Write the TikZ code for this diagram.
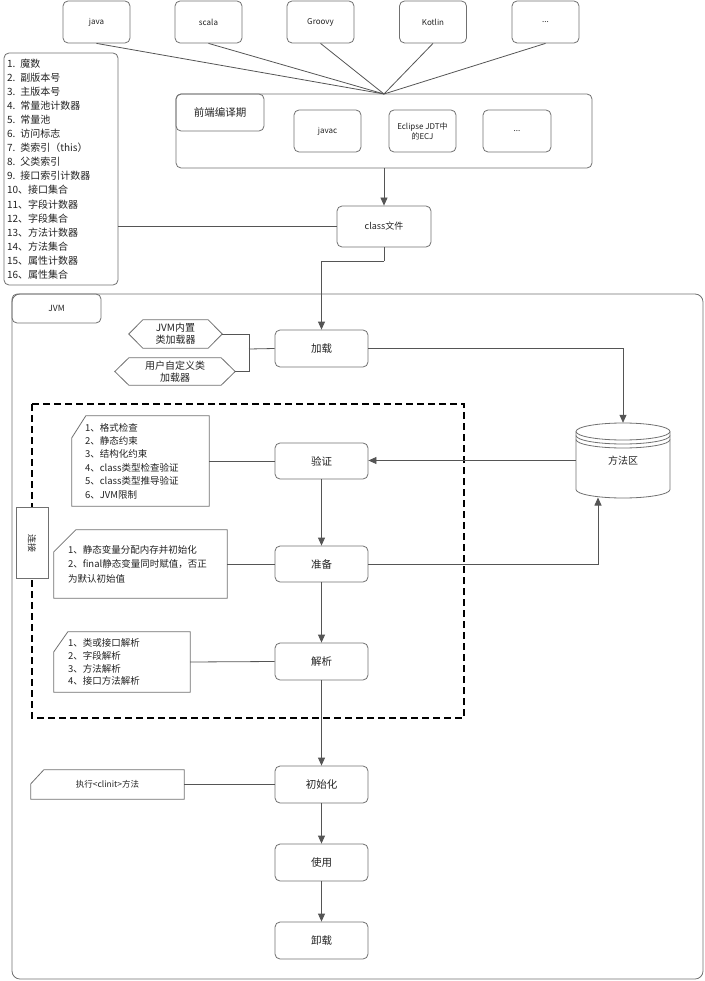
\documentclass[tikz,border=0pt]{standalone}
\usepackage{fontspec}
\setmainfont{Noto Sans CJK SC}
\usetikzlibrary{arrows.meta,calc}
\definecolor{boxgray}{HTML}{707070}
\definecolor{linegray}{HTML}{555555}
\definecolor{txt}{HTML}{222222}
\tikzset{
  sz/.style 2 args={minimum width=#1pt, minimum height=#2pt},
  box/.style={draw=boxgray, rounded corners=5pt, line width=0.8pt, align=center, inner sep=1pt, text=txt, font=\fontsize{10.5}{12}\selectfont},
  topbox/.style={box, font=\fontsize{8}{10}\selectfont},
  ghost/.style={inner sep=0pt, text=txt, align=center},
  boxline/.style={draw=boxgray, line width=0.8pt},
  conn/.style={draw=linegray, line width=0.8pt},
  arr/.style={conn, -{Triangle[length=8pt,width=7pt]}},
  notetxt/.style={ghost, align=left, font=\fontsize{9.5}{13.4}\selectfont},
}
\newcommand\cardoutline[3]{%
  \draw[boxline] ($(#1.north west)+(#2pt,0pt)$) -- (#1.north east) -- (#1.south east) -- (#1.south west) -- ($(#1.north west)+(0pt,-#3pt)$) -- cycle;}
\newcommand\hexoutline[2]{%
  \draw[boxline] (#1.west) -- ($(#1.north west)+(#2pt,0pt)$) -- ($(#1.north east)+(-#2pt,0pt)$) -- (#1.east) -- ($(#1.south east)+(-#2pt,0pt)$) -- ($(#1.south west)+(#2pt,0pt)$) -- cycle;}
\begin{document}
\begin{tikzpicture}[x=1pt,y=-1pt]
\useasboundingbox (0,0) rectangle (704,981);
% top language boxes
\node[topbox, sz={67}{42}] (java) at (96.5,22) {java};
\node[topbox, sz={67}{42}] (scala) at (208.5,22) {scala};
\node[topbox, sz={67}{42}] (groovy) at (320.5,22) {Groovy};
\node[topbox, sz={67}{42}] (kotlin) at (433,22) {Kotlin};
\node[topbox, sz={67}{42}] (more1) at (545.5,22) {...};
% front-end compile box
\node[box, sz={416}{74}] (front) at (384,131) {};
\coordinate (conv) at (384,94);
\node[box, sz={88}{37}, font=\fontsize{10.5}{12}\selectfont] (frontlbl) at (220,112.5) {前端编译期};
\node[topbox, sz={67}{42}] (javac) at (327.5,131) {javac};
\node[topbox, sz={67}{42}] (ecj) at (422.5,131) {Eclipse JDT中\\的ECJ};
\node[topbox, sz={68}{42}] (more2) at (517,131) {...};
\foreach \n in {java,scala,groovy,kotlin,more1}{\draw[conn] (\n.south) -- (conv);}
% class file
\node[box, sz={94}{41}, font=\fontsize{9}{11}\selectfont] (cls) at (384,226.5) {class文件};
\draw[arr] (front.south) -- (cls.north);
% class file structure list
\node[box, sz={114}{232}, align=left, inner xsep=3pt, font=\fontsize{10}{14.1}\selectfont, text width=108pt] (list) at (61,169) {1. 魔数\\2. 副版本号\\3. 主版本号\\4. 常量池计数器\\5. 常量池\\6. 访问标志\\7. 类索引（this）\\8. 父类索引\\9. 接口索引计数器\\10、接口集合\\11、字段计数器\\12、字段集合\\13、方法计数器\\14、方法集合\\15、属性计数器\\16、属性集合};
\draw[conn] (cls.west) -- (cls.west -| list.east);
% JVM container
\node[draw=boxgray, line width=0.8pt, rounded corners=8pt, sz={691}{685}] (jvm) at (357.5,636.5) {};
\node[box, sz={89}{29}, font=\fontsize{8.5}{10}\selectfont] (jvmlbl) at (56.5,308.5) {JVM};
% dashed linking region
\draw[black, line width=1.6pt, dash pattern=on 7pt off 4pt] (32,404) rectangle (464,718);
\node[draw=boxgray, line width=0.8pt, fill=white, rotate=-90, sz={71}{32}, inner sep=1pt, text=txt, font=\fontsize{9}{10}\selectfont] (link) at (32,543) {连接};
% main column
\node[box, sz={93}{37}] (load) at (321.5,348.5) {加载};
\node[box, sz={93}{36}] (verify) at (321.5,461) {验证};
\node[box, sz={93}{36}] (prep) at (321.5,564) {准备};
\node[box, sz={93}{37}] (resolve) at (321.5,661.5) {解析};
\node[box, sz={93}{37}] (init) at (321.5,784.5) {初始化};
\node[box, sz={93}{37}] (use) at (321.5,862.5) {使用};
\node[box, sz={93}{37}] (unload) at (321.5,940.5) {卸载};
\draw[conn] (cls.south) -- ++(0,14) coordinate (bend1);
\draw[arr] (bend1) -| (load.north);
\draw[arr] (verify.south) -- (prep.north);
\draw[arr] (prep.south) -- (resolve.north);
\draw[arr] (resolve.south) -- (init.north);
\draw[arr] (init.south) -- (use.north);
\draw[arr] (use.south) -- (unload.north);
% class loaders
\node[ghost, sz={93}{28}, font=\fontsize{10}{12}\selectfont] (hex1) at (175.5,334) {JVM内置\\类加载器};
\hexoutline{hex1}{14}
\node[ghost, sz={120}{27}, font=\fontsize{10}{12}\selectfont] (hex2) at (175,371.5) {用户自定义类\\加载器};
\hexoutline{hex2}{14}
\coordinate (jn) at (249,349);
\draw[conn] (hex1.east) -| (jn);
\draw[conn] (hex2.east) -| (jn);
\draw[conn] (jn) -- (load.west);
% method area cylinder
\node[ghost, sz={94}{75}, font=\fontsize{10}{12}\selectfont] (mz) at (623,460.5) {方法区};
\draw[boxline] (576,431.5) -- (576,489.5) arc[start angle=180,end angle=360,x radius=47pt,y radius=8.5pt] -- (670,431.5);
\draw[boxline] (623,431.5) ellipse[x radius=47pt, y radius=8.5pt];
\draw[boxline] (576,435.5) arc[start angle=180,end angle=360,x radius=47pt,y radius=8.5pt];
\draw[boxline] (576,439.5) arc[start angle=180,end angle=360,x radius=47pt,y radius=8.5pt];
\coordinate (mzb) at (598,497.5);
\draw[arr] (load.east) -| (mz.north);
\draw[arr] (mz.west) -- (mz.west -| verify.east);
\draw[arr] (prep.east) -| (mzb);
% notes
\node[notetxt, sz={137}{90}, inner xsep=13pt, text width=111pt] (nverify) at (140.5,461) {1、格式检查\\2、静态约束\\3、结构化约束\\4、class类型检查验证\\5、class类型推导验证\\6、JVM限制};
\cardoutline{nverify}{14}{22}
\draw[conn] (nverify.east) -- (verify.west);
\node[notetxt, sz={173}{68}, inner xsep=14pt, text width=145pt, font=\fontsize{9.5}{14.5}\selectfont] (nprep) at (140.5,564) {1、静态变量分配内存并初始化\\2、final静态变量同时赋值，否正\\为默认初始值};
\cardoutline{nprep}{22}{22}
\draw[conn] (nprep.east) -- (prep.west);
\node[notetxt, sz={136}{60}, inner xsep=14pt, text width=108pt, font=\fontsize{9.5}{12.8}\selectfont] (nresolve) at (122,662) {1、类或接口解析\\2、字段解析\\3、方法解析\\4、接口方法解析};
\cardoutline{nresolve}{14}{20}
\draw[conn] (nresolve.east) -- (resolve.west);
\node[ghost, sz={153}{29}, font=\fontsize{8.5}{10}\selectfont] (ninit) at (107.5,784.5) {执行<clinit>方法};
\cardoutline{ninit}{13}{14}
\draw[conn] (ninit.east) -- (init.west);
\end{tikzpicture}
\end{document}
